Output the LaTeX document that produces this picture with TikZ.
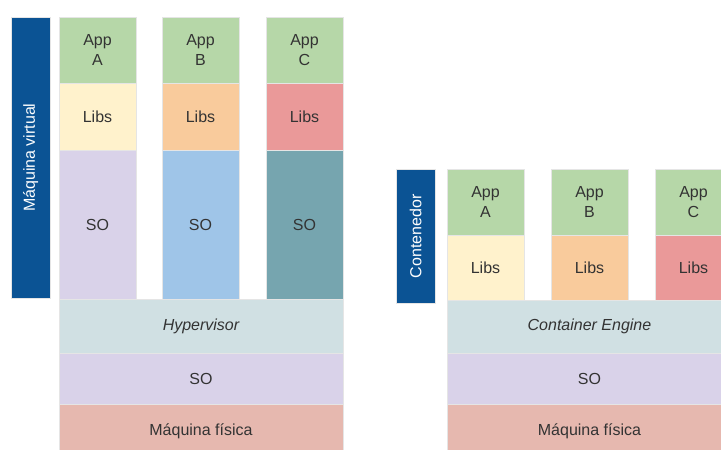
\documentclass[tikz,border=0pt]{standalone}
\usepackage{fontspec}
\setmainfont{Liberation Sans}
\usepackage{xcolor}
\usetikzlibrary{positioning}

\definecolor{barblue}{HTML}{0B5394}
\definecolor{appgreen}{HTML}{B6D7A8}
\definecolor{libyellow}{HTML}{FFF2CC}
\definecolor{liborange}{HTML}{F9CB9C}
\definecolor{libred}{HTML}{EA9999}
\definecolor{solavender}{HTML}{D9D2E9}
\definecolor{soblue}{HTML}{9FC5E8}
\definecolor{soteal}{HTML}{76A5AF}
\definecolor{engine}{HTML}{D0E0E3}
\definecolor{hardware}{HTML}{E6B8AF}

\tikzset{
  layer/.style={draw=black!10, line width=0.4pt, anchor=north west, inner sep=0pt,
    outer sep=0pt, align=center, text=black!80, font=\fontsize{16}{20}\selectfont},
  app/.style={layer, fill=appgreen, minimum width=77, minimum height=66},
  libs/.style={layer, minimum width=77, minimum height=66},
  label bar/.style={draw=black!10, fill=barblue, anchor=north west, inner sep=0pt,
    text=white, font=\fontsize{16}{20}\selectfont},
}

\begin{document}
\begin{tikzpicture}[x=1pt, y=-1pt]
	\useasboundingbox (0,0) rectangle (721,450);

	% maquina virtual
	\node[label bar, minimum width=39, minimum height=281] (vmbar) at (11,17) {};
	\node[rotate=90, text=white, font=\fontsize{16}{20}\selectfont] (vmtext) at (vmbar.center) {Máquina virtual};

	\node[app] (vmappA) at (59,17) {App\\A};
	\node[app] (vmappB) at (162,17) {App\\B};
	\node[app] (vmappC) at (266,17) {App\\C};
	\node[libs, fill=libyellow, minimum height=67] (vmlibsA) at (59,83) {Libs};
	\node[libs, fill=liborange, minimum height=67] (vmlibsB) at (162,83) {Libs};
	\node[libs, fill=libred, minimum height=67] (vmlibsC) at (266,83) {Libs};
	\node[libs, fill=solavender, minimum height=149] (vmsoA) at (59,150) {SO};
	\node[libs, fill=soblue, minimum height=149] (vmsoB) at (162,150) {SO};
	\node[libs, fill=soteal, minimum height=149] (vmsoC) at (266,150) {SO};

	\node[layer, fill=engine, minimum width=284, minimum height=54] (hyper) at (59,299) {\itshape Hypervisor};
	\node[layer, fill=solavender, minimum width=284, minimum height=51] (vmso) at (59,353) {SO};
	\node[layer, fill=hardware, minimum width=284, minimum height=54] (vmhw) at (59,404) {Máquina física};

	% contenedor
	\node[label bar, minimum width=39, minimum height=134] (ctbar) at (396,169) {};
	\node[rotate=90, text=white, font=\fontsize{16}{20}\selectfont] (cttext) at (ctbar.center) {Contenedor};

	\node[app] (ctappA) at (447,169) {App\\A};
	\node[app] (ctappB) at (551,169) {App\\B};
	\node[app] (ctappC) at (655,169) {App\\C};
	\node[libs, fill=libyellow, minimum height=65] (ctlibsA) at (447,235) {Libs};
	\node[libs, fill=liborange, minimum height=65] (ctlibsB) at (551,235) {Libs};
	\node[libs, fill=libred, minimum height=65] (ctlibsC) at (655,235) {Libs};

	\node[layer, fill=engine, minimum width=285, minimum height=53] (ctengine) at (447,300) {\itshape Container Engine};
	\node[layer, fill=solavender, minimum width=285, minimum height=51] (ctso) at (447,353) {SO};
	\node[layer, fill=hardware, minimum width=285, minimum height=54] (cthw) at (447,404) {Máquina física};
\end{tikzpicture}
\end{document}
